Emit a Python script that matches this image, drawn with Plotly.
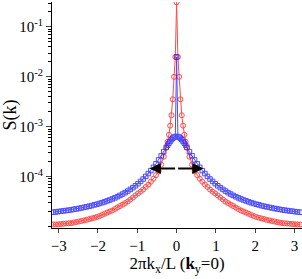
import math
import plotly.graph_objects as go

# k >= 0 half of the (symmetric) wave-vector grid, 2*pi*k_x/L
k_half = [0, 0.033, 0.065, 0.098, 0.131, 0.164, 0.196, 0.229, 0.262,
          0.327, 0.393, 0.458, 0.524, 0.589, 0.654, 0.720, 0.785, 0.851, 0.916,
          0.982, 1.047, 1.112, 1.178, 1.243, 1.309, 1.374, 1.440, 1.505, 1.571,
          1.636, 1.702, 1.767, 1.833, 1.898, 1.963, 2.029, 2.094, 2.160, 2.225,
          2.291, 2.356, 2.422, 2.487, 2.553, 2.618, 2.683, 2.749, 2.814, 2.880,
          2.945, 3.011, 3.076, 3.142]

# red series (circles), S(k) read at k_half
s_red_half = [0.31, 0.025, 0.010, 0.00355, 0.0017, 0.00105, 6.9e-4, 5.0e-4, 3.8e-4,
              2.5e-4, 1.74e-4, 1.29e-4, 1.07e-4, 9.1e-5, 7.9e-5, 6.9e-5, 6.2e-5, 5.5e-5,
              5.0e-5, 4.6e-5, 4.2e-5, 3.8e-5, 3.47e-5, 3.16e-5, 2.95e-5, 2.75e-5, 2.57e-5,
              2.4e-5, 2.24e-5, 2.09e-5, 2.0e-5, 1.9e-5, 1.8e-5, 1.7e-5, 1.62e-5, 1.55e-5,
              1.5e-5, 1.45e-5, 1.41e-5, 1.36e-5, 1.33e-5, 1.29e-5, 1.26e-5, 1.23e-5, 1.2e-5,
              1.17e-5, 1.16e-5, 1.15e-5, 1.135e-5, 1.12e-5, 1.11e-5, 1.1e-5, 1.1e-5]

# blue series (squares), S(k) read at k_half
s_blue_half = [0.025, 6.36e-4, 6.18e-4, 5.88e-4, 5.51e-4, 5.09e-4, 4.68e-4, 4.26e-4, 3.87e-4,
               3.17e-4, 2.61e-4, 2.16e-4, 1.81e-4, 1.54e-4, 1.32e-4, 1.15e-4, 1.01e-4,
               8.94e-5, 8.01e-5, 7.22e-5, 6.57e-5, 6.01e-5, 5.53e-5, 5.13e-5, 4.77e-5,
               4.47e-5, 4.20e-5, 3.96e-5, 3.75e-5, 3.57e-5, 3.40e-5, 3.26e-5, 3.12e-5,
               3.00e-5, 2.89e-5, 2.79e-5, 2.71e-5, 2.62e-5, 2.55e-5, 2.48e-5, 2.42e-5,
               2.36e-5, 2.30e-5, 2.25e-5, 2.21e-5, 2.16e-5, 2.12e-5, 2.09e-5, 2.05e-5,
               2.02e-5, 1.99e-5, 1.96e-5, 1.93e-5]

x_ticks = [-3, -2, -1, 0, 1, 2, 3]
y_tickvals = [1e-4, 1e-3, 1e-2, 1e-1]
y_ticktext = ["10<sup>-4</sup>", "10<sup>-3</sup>", "10<sup>-2</sup>", "10<sup>-1</sup>"]

# width marker (double arrow)
arrow_half_width = 0.68
arrow_level = 1.45e-4

# mirror the symmetric data onto k < 0
kx = [-k for k in reversed(k_half[1:])] + k_half
s_red = list(reversed(s_red_half[1:])) + s_red_half
s_blue = list(reversed(s_blue_half[1:])) + s_blue_half

FONT = "Liberation Serif"
RED = "rgb(255,30,30)"
BLUE = "rgb(30,30,255)"

fig = go.Figure()
fig.add_trace(go.Scatter(
    x=kx, y=s_red, mode="lines+markers",
    line=dict(color=RED, width=1),
    marker=dict(symbol="circle-open", size=5, color=RED, line=dict(width=1)),
    opacity=0.8, showlegend=False))
fig.add_trace(go.Scatter(
    x=kx, y=s_blue, mode="lines+markers",
    line=dict(color=BLUE, width=1),
    marker=dict(symbol="square-open", size=4.5, color=BLUE, line=dict(width=1)),
    opacity=0.8, showlegend=False))

for sgn in (-1, 1):
    fig.add_annotation(
        x=sgn * arrow_half_width, y=math.log10(arrow_level),
        ax=0, ay=math.log10(arrow_level), axref="x", ayref="y",
        xref="x", yref="y", text="", showarrow=True,
        arrowhead=2, arrowsize=1.1, arrowwidth=2, arrowcolor="black")

fig.update_layout(
    width=302, height=279,
    margin=dict(l=52, r=0, t=2, b=51),
    paper_bgcolor="white", plot_bgcolor="white",
    font=dict(family=FONT, size=15, color="black"),
    xaxis=dict(range=[-3.17, 3.19], tickvals=x_ticks, ticks="outside", ticklen=4,
               showline=True, linecolor="black", linewidth=1, showgrid=False,
               zeroline=False, tickfont=dict(size=15), automargin=False,
               title=dict(text="2πk<sub>x</sub>/L (<b>k</b><sub>y</sub>=0)",
                          font=dict(size=17), standoff=0)),
    yaxis=dict(type="log", range=[-5.03, -0.5], tickvals=y_tickvals, ticktext=y_ticktext,
               ticks="outside", ticklen=5, showline=True, linecolor="black", linewidth=1,
               showgrid=False, zeroline=False, tickfont=dict(size=15), automargin=False,
               minor=dict(ticks="outside", ticklen=3, tickcolor="black", dtick="D1", showgrid=False),
               title=dict(text="S(k)", font=dict(size=18), standoff=0)),
)

fig.write_html("out.html", config={"displayModeBar": False},
               post_script="document.body.style.margin='0px';")
